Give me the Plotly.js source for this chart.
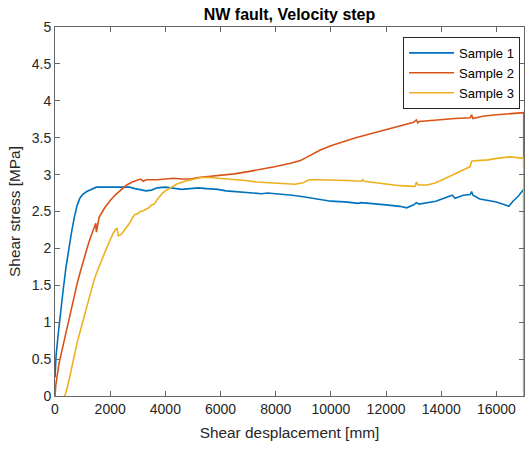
<!DOCTYPE html>
<html>
<head>
<meta charset="utf-8">
<script src="https://cdn.plot.ly/plotly-3.0.1.min.js"></script>
<style>html,body{margin:0;padding:0;background:#fff;}#chart{width:526px;height:450px;}</style>
</head>
<body>
<div id="chart"></div>
<script>
// Sample 1
const s1x = [0,40,120,200,300,400,500,600,700,800,900,1000,1150,1300,1500,1800,2100,2400,2700,2900,3100,3300,3500,3700,4000,4300,4600,4900,5200,5500,5900,6200,6500,6900,7300,7500,7700,8100,8600,9000,9500,10000,10500,11000,11100,11500,12000,12500,12750,13000,13100,13200,13500,13800,14100,14400,14500,14800,15050,15100,15150,15400,15700,16000,16300,16450,16600,16800,16990,16990];
const s1y = [0.25,0.55,0.85,1.15,1.45,1.75,2.0,2.22,2.42,2.58,2.68,2.73,2.77,2.8,2.83,2.83,2.83,2.84,2.83,2.81,2.79,2.78,2.79,2.82,2.83,2.81,2.8,2.81,2.82,2.81,2.8,2.78,2.77,2.76,2.75,2.74,2.75,2.74,2.72,2.7,2.67,2.64,2.63,2.61,2.62,2.61,2.59,2.57,2.55,2.59,2.62,2.6,2.62,2.64,2.68,2.72,2.68,2.72,2.73,2.77,2.72,2.67,2.65,2.63,2.59,2.57,2.64,2.71,2.8,0.05];
// Sample 2
const s2x = [0,30,150,250,350,420,500,600,700,800,900,1000,1100,1200,1300,1400,1480,1500,1540,1600,1800,2000,2200,2400,2600,2800,3000,3100,3200,3300,3700,4000,4300,4600,4900,5200,5500,6000,6500,7000,7500,8000,8500,8900,9100,9200,9600,10000,10300,10600,10900,11000,11500,12000,12500,13000,13100,13150,13200,13800,14500,15050,15100,15150,15500,16000,16500,16990,16990];
const s2y = [0.0,0.15,0.45,0.62,0.78,0.88,1.02,1.19,1.36,1.52,1.66,1.8,1.94,2.05,2.16,2.26,2.34,2.22,2.32,2.42,2.55,2.65,2.73,2.8,2.86,2.9,2.93,2.94,2.91,2.93,2.93,2.94,2.95,2.94,2.94,2.96,2.97,2.99,3.01,3.04,3.07,3.11,3.15,3.19,3.23,3.25,3.33,3.39,3.43,3.47,3.5,3.51,3.56,3.62,3.67,3.71,3.74,3.7,3.72,3.74,3.76,3.77,3.81,3.76,3.79,3.81,3.83,3.84,3.1];
// Sample 3
const s3x = [350,400,500,600,700,800,900,1000,1100,1200,1300,1400,1500,1600,1700,1800,1900,2000,2100,2200,2250,2300,2400,2500,2600,2700,2800,2900,3000,3100,3200,3400,3500,3600,3700,3800,3900,4000,4200,4400,4700,5000,5300,5600,6000,6300,6500,6900,7300,7700,8200,8700,9000,9200,9600,10100,10600,11100,11150,11200,11600,12000,12500,13000,13050,13100,13150,13500,13800,14100,14400,14700,15000,15050,15100,15300,15700,16000,16500,16990,16990];
const s3y = [0.0,0.05,0.2,0.38,0.55,0.72,0.86,1.0,1.15,1.3,1.43,1.55,1.66,1.76,1.85,1.94,2.03,2.12,2.2,2.26,2.27,2.17,2.19,2.24,2.29,2.34,2.41,2.46,2.47,2.5,2.51,2.55,2.59,2.6,2.66,2.71,2.75,2.78,2.83,2.87,2.91,2.94,2.96,2.96,2.95,2.94,2.93,2.92,2.9,2.89,2.88,2.87,2.89,2.93,2.93,2.93,2.92,2.91,2.93,2.91,2.89,2.87,2.85,2.84,2.84,2.9,2.86,2.86,2.89,2.94,2.99,3.05,3.1,3.11,3.18,3.19,3.2,3.22,3.24,3.22,0.0];

const names = ['Sample 1','Sample 2','Sample 3'];
const colors = ['#0072BD','#D95319','#EDB120'];
const xTicks = [0,2000,4000,6000,8000,10000,12000,14000,16000];
const yTicks = [0,0.5,1,1.5,2,2.5,3,3.5,4,4.5,5];

const xs=[s1x,s2x,s3x], ys=[s1y,s2y,s3y];
const traces = xs.map((x,i)=>({x:x,y:ys[i],type:'scatter',mode:'lines',name:names[i],
  line:{color:colors[i],width:1.6}}));

const axisCommon = {showline:true, linecolor:'#666', linewidth:1, mirror:'ticks', ticks:'inside',
  ticklen:5, tickcolor:'#666', showgrid:false, zeroline:false,
  tickfont:{family:'Liberation Sans, Arial, sans-serif', size:14, color:'#262626'}};

const layout = {
  width:526, height:450,
  margin:{l:55, r:2, t:27, b:54},
  paper_bgcolor:'#fff', plot_bgcolor:'#fff',
  font:{family:'Liberation Sans, Arial, sans-serif', color:'#262626'},
  title:{text:'<b>NW fault, Velocity step</b>', x:0.5, xref:'paper', y:0.969, yref:'container', yanchor:'middle',
    font:{size:16, color:'#000'}},
  xaxis:Object.assign({}, axisCommon, {range:[0,17000], tickvals:xTicks, ticktext:xTicks.map(String),
    title:{text:'Shear desplacement [mm]', font:{size:15.4, color:'#262626'}, standoff:11}}),
  yaxis:Object.assign({}, axisCommon, {range:[0,5], tickvals:yTicks, ticktext:yTicks.map(String),
    title:{text:'Shear stress [MPa]', font:{size:15.4, color:'#262626'}, standoff:7}}),
  legend:{x:0.9915, xanchor:'right', y:0.973, yanchor:'top', bordercolor:'#262626', borderwidth:1,
    bgcolor:'#fff', font:{size:13, color:'#000'}, tracegroupgap:0, itemwidth:45},
  showlegend:true
};

Plotly.newPlot('chart', traces, layout, {displayModeBar:false, staticPlot:true});
</script>
</body>
</html>
